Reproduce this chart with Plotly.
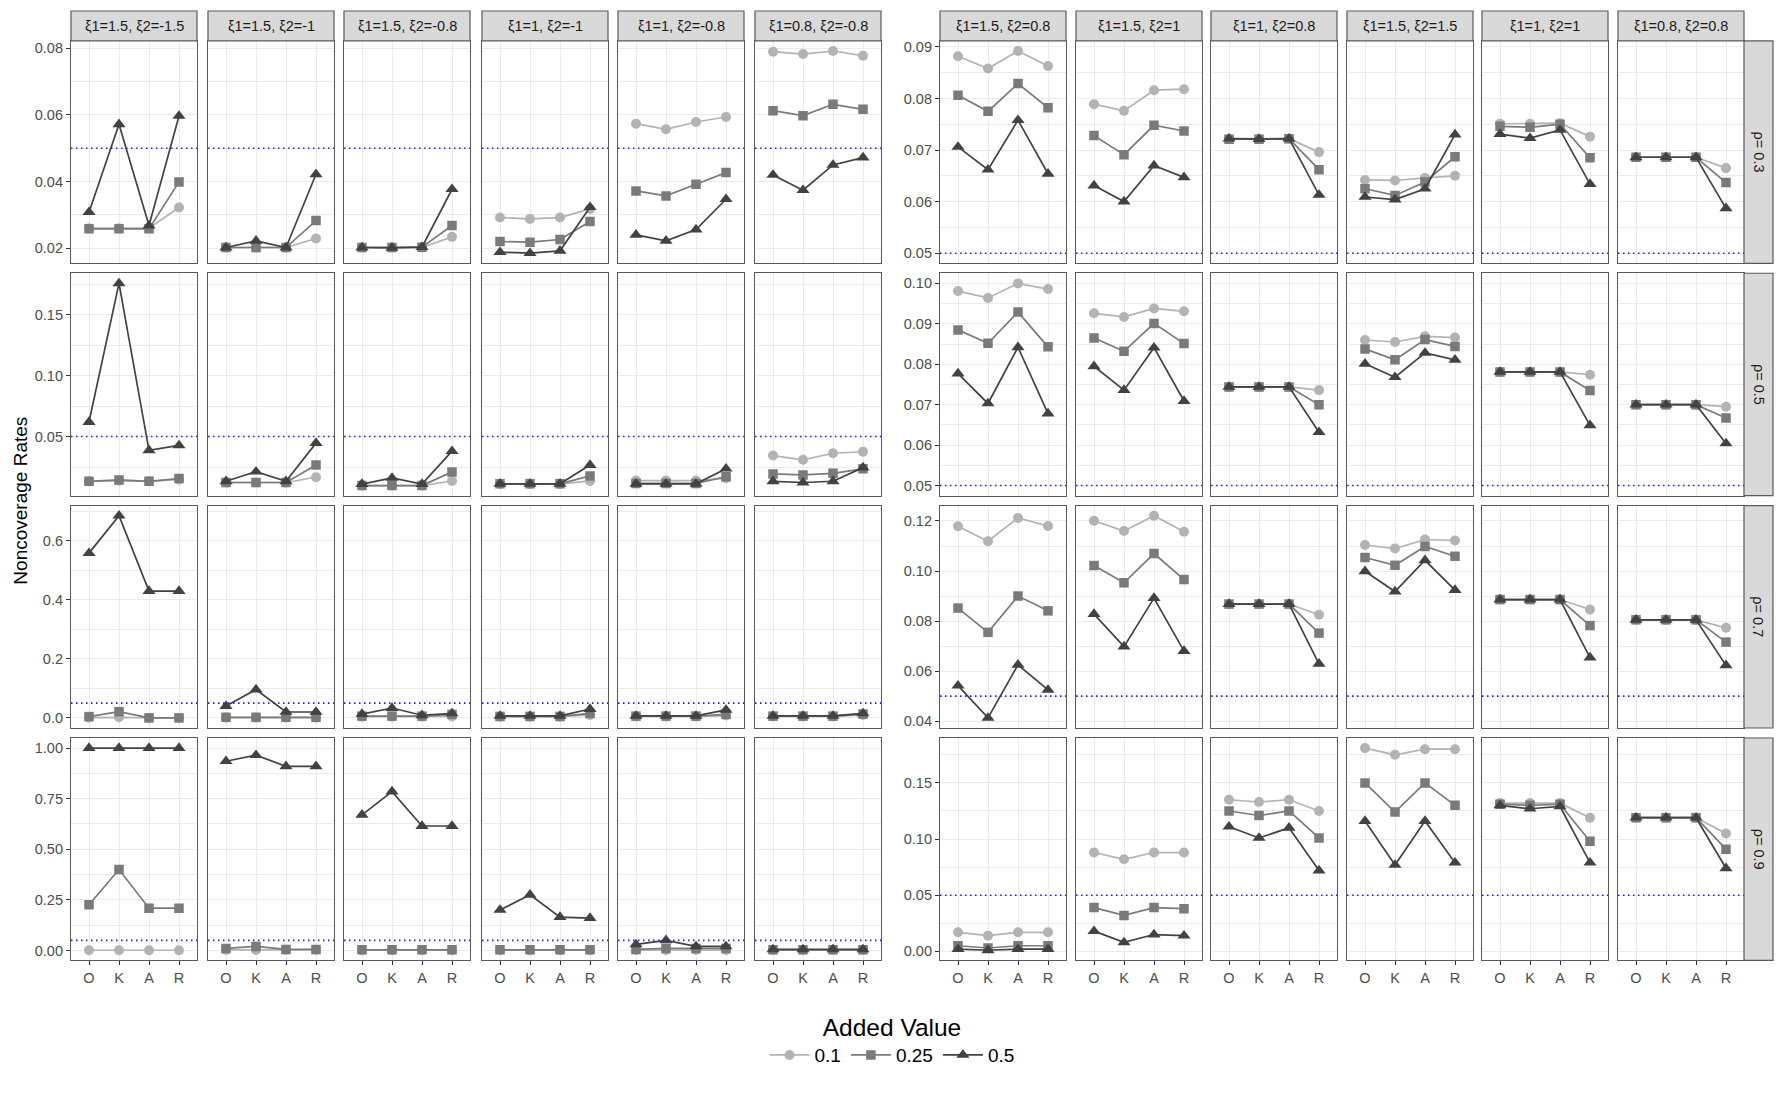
import plotly.graph_objects as go

# ---------------- data ----------------
CATS = ["O", "K", "A", "R"]
PANEL_LABELS = [
    "ξ1=1.5, ξ2=-1.5", "ξ1=1.5, ξ2=-1", "ξ1=1.5, ξ2=-0.8", "ξ1=1, ξ2=-1",
    "ξ1=1, ξ2=-0.8", "ξ1=0.8, ξ2=-0.8",
    "ξ1=1.5, ξ2=0.8", "ξ1=1.5, ξ2=1", "ξ1=1, ξ2=0.8", "ξ1=1.5, ξ2=1.5",
    "ξ1=1, ξ2=1", "ξ1=0.8, ξ2=0.8",
]
RHO_LABELS = ["ρ= 0.3", "ρ= 0.5", "ρ= 0.7", "ρ= 0.9"]
SERIES = ["0.1", "0.25", "0.5"]
THRESHOLD = 0.05

# each list: 12 panels x 4 methods (O, K, A, R)
RATE_01_RHO03 = [
    [0.026, 0.026, 0.026, 0.0322], [0.0202, 0.0202, 0.0202, 0.0229],
    [0.0202, 0.0202, 0.0202, 0.0234], [0.0292, 0.0288, 0.0292, 0.0318],
    [0.0574, 0.0557, 0.0579, 0.0594], [0.079, 0.0783, 0.0792, 0.0778],
    [0.0882, 0.0858, 0.0892, 0.0863], [0.0789, 0.0776, 0.0816, 0.0818],
    [0.0722, 0.0722, 0.0722, 0.0696], [0.0642, 0.0641, 0.0646, 0.065],
    [0.0751, 0.0751, 0.0752, 0.0726], [0.0686, 0.0686, 0.0686, 0.0665],
]
RATE_025_RHO03 = [
    [0.0258, 0.0258, 0.0258, 0.0399], [0.0202, 0.0202, 0.0202, 0.0283],
    [0.0202, 0.0202, 0.0203, 0.0268], [0.022, 0.0218, 0.0226, 0.028],
    [0.0372, 0.0357, 0.0392, 0.0427], [0.0613, 0.0598, 0.0632, 0.0617],
    [0.0806, 0.0775, 0.0829, 0.0782], [0.0728, 0.0691, 0.0748, 0.0737],
    [0.0721, 0.0721, 0.0722, 0.0662], [0.0625, 0.0612, 0.0638, 0.0687],
    [0.0746, 0.0744, 0.075, 0.0685], [0.0686, 0.0686, 0.0686, 0.0637],
]
RATE_05_RHO03 = [
    [0.0308, 0.0572, 0.0268, 0.0597], [0.0202, 0.0222, 0.0202, 0.0422],
    [0.0202, 0.0201, 0.0203, 0.0377], [0.0188, 0.0185, 0.0192, 0.0323],
    [0.024, 0.0222, 0.0256, 0.0347], [0.042, 0.0374, 0.045, 0.0472],
    [0.0706, 0.0662, 0.0758, 0.0654], [0.0631, 0.06, 0.067, 0.0647],
    [0.0722, 0.0721, 0.0722, 0.0613], [0.0609, 0.0604, 0.0625, 0.073],
    [0.0731, 0.0723, 0.0739, 0.0634], [0.0686, 0.0686, 0.0686, 0.0587],
]
RATE_01_RHO05 = [
    [0.0133, 0.0138, 0.0133, 0.0148], [0.0123, 0.0123, 0.0123, 0.0166],
    [0.0098, 0.0098, 0.0098, 0.0135], [0.011, 0.011, 0.011, 0.0136],
    [0.0139, 0.0139, 0.0139, 0.0158], [0.0344, 0.0309, 0.0363, 0.0375],
    [0.0981, 0.0964, 0.1, 0.0986], [0.0926, 0.0917, 0.0938, 0.0931],
    [0.0744, 0.0744, 0.0744, 0.0736], [0.086, 0.0855, 0.0869, 0.0866],
    [0.0781, 0.0781, 0.0781, 0.0774], [0.07, 0.07, 0.07, 0.0695],
]
RATE_025_RHO05 = [
    [0.0133, 0.0144, 0.0133, 0.0155], [0.0123, 0.0123, 0.0123, 0.0266],
    [0.0098, 0.0098, 0.0098, 0.021], [0.0112, 0.0112, 0.0112, 0.0177],
    [0.0115, 0.0115, 0.0115, 0.0171], [0.0193, 0.0185, 0.0198, 0.0235],
    [0.0885, 0.0852, 0.0929, 0.0843], [0.0865, 0.0832, 0.0901, 0.0851],
    [0.0744, 0.0744, 0.0744, 0.07], [0.0838, 0.0811, 0.0861, 0.0844],
    [0.0781, 0.0781, 0.0781, 0.0735], [0.07, 0.07, 0.07, 0.0667],
]
RATE_05_RHO05 = [
    [0.0619, 0.1756, 0.0387, 0.0427], [0.0133, 0.0212, 0.0133, 0.0446],
    [0.011, 0.016, 0.011, 0.038], [0.0112, 0.0112, 0.0112, 0.0266],
    [0.0112, 0.0112, 0.0112, 0.0236], [0.0133, 0.0123, 0.0133, 0.0245],
    [0.0777, 0.0703, 0.0842, 0.0678], [0.0795, 0.0736, 0.0841, 0.0709],
    [0.0744, 0.0744, 0.0744, 0.0632], [0.0801, 0.0768, 0.0828, 0.0811],
    [0.0781, 0.0781, 0.0781, 0.0649], [0.07, 0.07, 0.07, 0.0604],
]
RATE_01_RHO07 = [
    [0.001, 0.002, 0.0, 0.0], [0.001, 0.001, 0.001, 0.001],
    [0.004, 0.004, 0.004, 0.005], [0.004, 0.004, 0.004, 0.01],
    [0.005, 0.005, 0.005, 0.008], [0.005, 0.005, 0.005, 0.01],
    [0.1179, 0.1119, 0.1212, 0.118], [0.1201, 0.116, 0.1221, 0.1157],
    [0.0868, 0.0868, 0.0868, 0.0825], [0.1104, 0.109, 0.1126, 0.1122],
    [0.0886, 0.0886, 0.0886, 0.0846], [0.0805, 0.0805, 0.0805, 0.0773],
]
RATE_025_RHO07 = [
    [0.0045, 0.021, 0.0, 0.0], [0.002, 0.002, 0.002, 0.002],
    [0.006, 0.006, 0.006, 0.012], [0.005, 0.005, 0.005, 0.015],
    [0.006, 0.006, 0.006, 0.012], [0.006, 0.006, 0.006, 0.013],
    [0.0852, 0.0755, 0.09, 0.0841], [0.1022, 0.0953, 0.107, 0.0966],
    [0.0868, 0.0868, 0.0868, 0.0752], [0.1054, 0.1023, 0.1098, 0.1059],
    [0.0886, 0.0886, 0.0886, 0.0782], [0.0805, 0.0805, 0.0805, 0.0716],
]
RATE_05_RHO07 = [
    [0.5575, 0.684, 0.429, 0.429], [0.04, 0.096, 0.02, 0.02],
    [0.013, 0.0335, 0.009, 0.015], [0.0067, 0.0067, 0.0067, 0.03],
    [0.0067, 0.0067, 0.0067, 0.027], [0.0067, 0.0067, 0.0067, 0.015],
    [0.0542, 0.0413, 0.0625, 0.0525], [0.0828, 0.0698, 0.0892, 0.068],
    [0.0868, 0.0868, 0.0868, 0.0629], [0.0999, 0.0918, 0.1043, 0.0924],
    [0.0886, 0.0886, 0.0886, 0.0654], [0.0805, 0.0805, 0.0805, 0.0623],
]
RATE_01_RHO09 = [
    [0.001, 0.001, 0.001, 0.001], [0.003, 0.003, 0.003, 0.003],
    [0.001, 0.001, 0.001, 0.001], [0.001, 0.001, 0.001, 0.001],
    [0.002, 0.002, 0.002, 0.002], [0.002, 0.002, 0.002, 0.002],
    [0.017, 0.014, 0.017, 0.017], [0.088, 0.082, 0.088, 0.088],
    [0.135, 0.133, 0.135, 0.125], [0.181, 0.175, 0.18, 0.18],
    [0.132, 0.132, 0.132, 0.119], [0.119, 0.119, 0.119, 0.105],
]
RATE_025_RHO09 = [
    [0.226, 0.40, 0.209, 0.209], [0.01, 0.02, 0.005, 0.005],
    [0.003, 0.003, 0.003, 0.003], [0.003, 0.003, 0.003, 0.003],
    [0.005, 0.01, 0.01, 0.01], [0.003, 0.003, 0.003, 0.003],
    [0.005, 0.003, 0.005, 0.005], [0.039, 0.032, 0.039, 0.038],
    [0.125, 0.121, 0.125, 0.101], [0.15, 0.124, 0.15, 0.13],
    [0.131, 0.13, 0.131, 0.098], [0.119, 0.119, 0.119, 0.091],
]
RATE_05_RHO09 = [
    [1.0, 1.0, 1.0, 1.0], [0.935, 0.965, 0.91, 0.91],
    [0.67, 0.785, 0.615, 0.615], [0.2, 0.275, 0.165, 0.16],
    [0.03, 0.05, 0.02, 0.02], [0.005, 0.005, 0.005, 0.005],
    [0.002, 0.001, 0.002, 0.002], [0.018, 0.008, 0.015, 0.014],
    [0.111, 0.101, 0.11, 0.072], [0.116, 0.077, 0.116, 0.079],
    [0.13, 0.127, 0.129, 0.079], [0.119, 0.119, 0.119, 0.074],
]

ROWS = [
    {"0.1": RATE_01_RHO03, "0.25": RATE_025_RHO03, "0.5": RATE_05_RHO03},
    {"0.1": RATE_01_RHO05, "0.25": RATE_025_RHO05, "0.5": RATE_05_RHO05},
    {"0.1": RATE_01_RHO07, "0.25": RATE_025_RHO07, "0.5": RATE_05_RHO07},
    {"0.1": RATE_01_RHO09, "0.25": RATE_025_RHO09, "0.5": RATE_05_RHO09},
]

# y tick steps per row (left group, right group) and formats
LEFT_DTICK = [0.02, 0.05, 0.2, 0.25]
LEFT_FMT = [".2f", ".2f", ".1f", ".2f"]
RIGHT_DTICK = [0.01, 0.01, 0.02, 0.05]
RIGHT_FMT = [".2f", ".2f", ".2f", ".2f"]

# ---------------- style / geometry ----------------
W, H = 1784, 1094
PAGE_OFF = 8                      # default body margin of the html page
FIG_W, FIG_H = W - PAGE_OFF, H - PAGE_OFF
LEFT_X0 = [71, 208, 344, 482, 618, 755]
RIGHT_X0 = [940, 1076, 1211, 1347, 1482, 1618]
PANEL_W = 126
ROW_Y0 = [39, 272, 505, 738]
PANEL_H = 223
STRIP_H = 30
RSTRIP_W = 29

COLORS = {"0.1": "#b3b3b3", "0.25": "#7a7a7a", "0.5": "#424242"}
SYMBOLS = {"0.1": "circle", "0.25": "square", "0.5": "triangle-up"}
SIZES = {"0.1": 10, "0.25": 9.5, "0.5": 11.5}
FONT = "Liberation Sans, Arial, sans-serif"
BORDER = "#5a5a5a"
GRID = "#ebebeb"


def px_x(v):
    return (v - PAGE_OFF) / FIG_W


def px_y(v):
    return 1 - (v - PAGE_OFF) / FIG_H


fig = go.Figure()
layout = dict(
    width=FIG_W, height=FIG_H, margin=dict(l=0, r=0, t=0, b=0),
    paper_bgcolor="white", plot_bgcolor="white",
    font=dict(family=FONT, color="#4d4d4d"),
    showlegend=True,
)
shapes = []
annotations = []

x0s = LEFT_X0 + RIGHT_X0
for r in range(4):
    row = ROWS[r]
    for grp in (0, 1):
        cols = range(0, 6) if grp == 0 else range(6, 12)
        vals = [THRESHOLD]
        for c in cols:
            for s in SERIES:
                vals += row[s][c]
        lo, hi = min(vals), max(vals)
        pad = 0.05 * (hi - lo)
        yr = [lo - pad, hi + pad]
        dt = LEFT_DTICK[r] if grp == 0 else RIGHT_DTICK[r]
        fmt = LEFT_FMT[r] if grp == 0 else RIGHT_FMT[r]
        for c in cols:
            k = r * 12 + c + 1
            xn = "xaxis" if k == 1 else f"xaxis{k}"
            yn = "yaxis" if k == 1 else f"yaxis{k}"
            xs = "x" if k == 1 else f"x{k}"
            ys = "y" if k == 1 else f"y{k}"
            x0 = x0s[c]
            y0 = ROW_Y0[r]
            layout[xn] = dict(
                domain=[px_x(x0), px_x(x0 + PANEL_W)], anchor=ys,
                type="category", categoryorder="array", categoryarray=CATS,
                range=[-0.6, 3.6], showgrid=True, gridcolor=GRID, gridwidth=1.4,
                zeroline=False, showline=True, mirror=True, linecolor=BORDER,
                linewidth=1.2, showticklabels=(r == 3),
                ticks="outside" if r == 3 else "", ticklen=4, tickcolor="#333333",
                tickfont=dict(size=14.5, color="#4d4d4d", family=FONT),
                fixedrange=True,
            )
            show_y = c in (0, 6)
            layout[yn] = dict(
                domain=[px_y(y0 + PANEL_H), px_y(y0)], anchor=xs,
                range=yr, tick0=0, dtick=dt, tickformat=fmt,
                showgrid=True, gridcolor=GRID, gridwidth=1.4,
                minor=dict(tick0=0, dtick=dt / 2, showgrid=True, gridcolor=GRID,
                           gridwidth=0.7, ticks=""),
                zeroline=False, showline=True, mirror=True, linecolor=BORDER,
                linewidth=1.2, showticklabels=show_y,
                ticks="outside" if show_y else "", ticklen=4, tickcolor="#333333",
                tickfont=dict(size=14.5, color="#4d4d4d", family=FONT),
                fixedrange=True,
            )
            shapes.append(dict(
                type="line", xref=f"{xs} domain", yref=ys, x0=0, x1=1,
                y0=THRESHOLD, y1=THRESHOLD, layer="above",
                line=dict(color="#1f1fff", width=1.6, dash="1.5px,3.5px"),
            ))
            for s in SERIES:
                fig.add_trace(go.Scatter(
                    x=CATS, y=row[s][c], xaxis=xs, yaxis=ys,
                    mode="lines+markers", name=s, legendgroup=s,
                    showlegend=(k == 1),
                    line=dict(color=COLORS[s], width=1.7),
                    marker=dict(color=COLORS[s], symbol=SYMBOLS[s], size=SIZES[s]),
                    hoverinfo="skip",
                ))

# top strips
for c in range(12):
    x0 = x0s[c]
    shapes.append(dict(
        type="rect", xref="paper", yref="paper",
        x0=px_x(x0), x1=px_x(x0 + PANEL_W),
        y0=px_y(ROW_Y0[0]), y1=px_y(ROW_Y0[0] - STRIP_H),
        fillcolor="#d9d9d9", line=dict(color=BORDER, width=1.2), layer="above",
    ))
    annotations.append(dict(
        text=PANEL_LABELS[c], xref="paper", yref="paper",
        x=px_x(x0 + PANEL_W / 2), y=px_y(ROW_Y0[0] - STRIP_H / 2),
        showarrow=False, xanchor="center", yanchor="middle",
        font=dict(size=14.5, color="#1a1a1a", family=FONT),
    ))

# right strips
rx0 = RIGHT_X0[-1] + PANEL_W
for r in range(4):
    y0 = ROW_Y0[r]
    shapes.append(dict(
        type="rect", xref="paper", yref="paper",
        x0=px_x(rx0), x1=px_x(rx0 + RSTRIP_W),
        y0=px_y(y0 + PANEL_H), y1=px_y(y0),
        fillcolor="#d9d9d9", line=dict(color=BORDER, width=1.2), layer="above",
    ))
    annotations.append(dict(
        text=RHO_LABELS[r], xref="paper", yref="paper",
        x=px_x(rx0 + RSTRIP_W / 2), y=px_y(y0 + PANEL_H / 2),
        showarrow=False, xanchor="center", yanchor="middle", textangle=90,
        font=dict(size=14.5, color="#1a1a1a", family=FONT),
    ))

# y axis title
annotations.append(dict(
    text="Noncoverage Rates", xref="paper", yref="paper",
    x=px_x(21), y=px_y((ROW_Y0[0] + ROW_Y0[3] + PANEL_H) / 2),
    showarrow=False, xanchor="center", yanchor="middle", textangle=-90,
    font=dict(size=19, color="black", family=FONT),
))

layout["shapes"] = shapes
layout["annotations"] = annotations
layout["legend"] = dict(
    orientation="h", x=px_x(W / 2), xanchor="center", y=px_y(1005), yanchor="top",
    title=dict(text="Added Value", side="top center",
               font=dict(size=24.5, color="black", family=FONT)),
    font=dict(size=19, color="black", family=FONT),
    bgcolor="rgba(0,0,0,0)", itemwidth=40,
)
fig.update_layout(**layout)
fig.write_html("out.html")
